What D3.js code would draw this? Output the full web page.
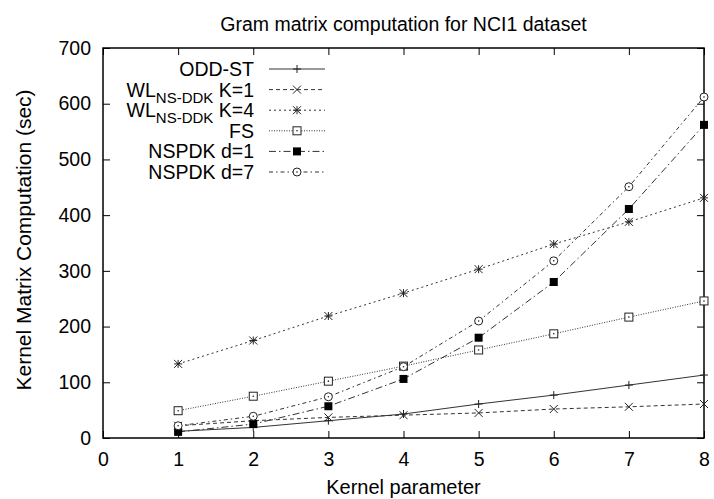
<!DOCTYPE html>
<html>
<head>
<meta charset="utf-8">
<script src="https://cdn.jsdelivr.net/npm/d3@7"></script>
<style>
  body { margin: 0; background: #fff; }
  text { font-family: "Liberation Sans", Arial, sans-serif; fill: #000; }
</style>
</head>
<body>
<svg width="714" height="499"></svg>
<script>
// kernel parameter values (x)
const params = [1, 2, 3, 4, 5, 6, 7, 8];

// running times in seconds
const oddSt    = [12, 19, 31, 43, 61, 77, 95, 113];
const wlK1     = [22, 31, 37, 41, 45, 52, 56, 61];
const wlK4     = [133, 175, 219, 260, 303, 348, 388, 431];
const fs       = [49, 75, 102, 129, 158, 187, 217, 246];
const nspdkD1  = [11, 25, 57, 106, 180, 280, 411, 562];
const nspdkD7  = [22, 39, 74, 128, 210, 318, 451, 612];

const xTicks = [0, 1, 2, 3, 4, 5, 6, 7, 8];
const yTicks = [0, 100, 200, 300, 400, 500, 600, 700];

const series = [
  { name: "ODD-ST", values: oddSt, dash: null, marker: "plus" },
  { name: "WL", sub: "NS-DDK", tail: " K=1", values: wlK1, dash: "4,3", marker: "cross" },
  { name: "WL", sub: "NS-DDK", tail: " K=4", values: wlK4, dash: "2,3", marker: "star" },
  { name: "FS", values: fs, dash: "1,1.5", marker: "square" },
  { name: "NSPDK d=1", values: nspdkD1, dash: "7,3,1.5,3", marker: "filled" },
  { name: "NSPDK d=7", values: nspdkD7, dash: "4,3,1.5,3", marker: "circle" }
];

const margin = { top: 48, right: 10, bottom: 61, left: 103 };
const width = 714 - margin.left - margin.right;
const height = 499 - margin.top - margin.bottom;

const svg = d3.select("svg");
const g = svg.append("g")
  .attr("transform", `translate(${margin.left},${margin.top})`);

const x = d3.scaleLinear().domain([0, 8]).range([0, width]);
const y = d3.scaleLinear().domain([0, 700]).range([height, 0]);

// axes with inward ticks on all four sides
function styleAxis(sel) {
  sel.select(".domain").remove();
  sel.selectAll("line").attr("stroke", "#000").attr("stroke-width", 1);
  sel.selectAll("text").style("font-size", "19.5px");
}

g.append("g")
  .attr("transform", `translate(0,${height})`)
  .call(d3.axisBottom(x).tickValues(xTicks).tickSizeInner(-7).tickSizeOuter(0).tickPadding(14))
  .call(styleAxis);

g.append("g")
  .call(d3.axisTop(x).tickValues(xTicks).tickSizeInner(-7).tickSizeOuter(0).tickFormat(""))
  .call(styleAxis);

g.append("g")
  .call(d3.axisLeft(y).tickValues(yTicks).tickSizeInner(-7).tickSizeOuter(0).tickPadding(12))
  .call(styleAxis);

g.append("g")
  .attr("transform", `translate(${width},0)`)
  .call(d3.axisRight(y).tickValues(yTicks).tickSizeInner(-7).tickSizeOuter(0).tickFormat(""))
  .call(styleAxis);

g.append("rect")
  .attr("width", width)
  .attr("height", height)
  .attr("fill", "none")
  .attr("stroke", "#000")
  .attr("stroke-width", 1.5);

// marker shapes
function drawMarker(sel, type, cx, cy) {
  const s = 4;
  const m = sel.append("g").attr("transform", `translate(${cx},${cy})`);
  const line = (x1, y1, x2, y2) => m.append("line")
    .attr("x1", x1).attr("y1", y1).attr("x2", x2).attr("y2", y2)
    .attr("stroke", "#222").attr("stroke-width", 1);
  if (type === "plus" || type === "star") {
    line(-s, 0, s, 0);
    line(0, -s, 0, s);
  }
  if (type === "cross" || type === "star") {
    line(-s, -s, s, s);
    line(-s, s, s, -s);
  }
  if (type === "square") {
    m.append("rect").attr("x", -s).attr("y", -s).attr("width", 2 * s).attr("height", 2 * s)
      .attr("fill", "#fff").attr("stroke", "#222").attr("stroke-width", 1);
    m.append("circle").attr("r", 0.8).attr("fill", "#222");
  }
  if (type === "filled") {
    m.append("rect").attr("x", -s).attr("y", -s).attr("width", 2 * s).attr("height", 2 * s)
      .attr("fill", "#000");
  }
  if (type === "circle") {
    m.append("circle").attr("r", s).attr("fill", "#fff").attr("stroke", "#222").attr("stroke-width", 1);
    m.append("circle").attr("r", 0.8).attr("fill", "#222");
  }
}

const lineGen = d3.line()
  .x((d, i) => x(params[i]))
  .y(d => y(d));

series.forEach(s => {
  g.append("path")
    .datum(s.values)
    .attr("d", lineGen)
    .attr("fill", "none")
    .attr("stroke", "#333")
    .attr("stroke-width", 1)
    .attr("stroke-dasharray", s.dash);
});

series.forEach(s => {
  s.values.forEach((v, i) => drawMarker(g, s.marker, x(params[i]), y(v)));
});

// legend
const legend = svg.append("g").attr("transform", "translate(254,69)");
series.forEach((s, i) => {
  const row = legend.append("g").attr("transform", `translate(0,${i * 20.6})`);
  const t = row.append("text")
    .attr("x", 0)
    .attr("y", 7)
    .attr("text-anchor", "end")
    .style("font-size", "19.5px");
  t.append("tspan").text(s.name);
  if (s.sub) {
    t.append("tspan").attr("dy", 6).style("font-size", "15px").text(s.sub);
    t.append("tspan").attr("dy", -6).text(s.tail);
  }
  row.append("line")
    .attr("x1", 15).attr("x2", 71)
    .attr("y1", 0).attr("y2", 0)
    .attr("stroke", "#333")
    .attr("stroke-width", 1)
    .attr("stroke-dasharray", s.dash);
  drawMarker(row, s.marker, 43, 0);
});

// title and axis labels
svg.append("text")
  .attr("x", margin.left + width / 2)
  .attr("y", 31)
  .attr("text-anchor", "middle")
  .style("font-size", "19.5px")
  .text("Gram matrix computation for NCI1 dataset");

svg.append("text")
  .attr("x", margin.left + width / 2)
  .attr("y", 494)
  .attr("text-anchor", "middle")
  .style("font-size", "20px")
  .text("Kernel parameter");

svg.append("text")
  .attr("transform", "rotate(-90)")
  .attr("x", -240)
  .attr("y", 31)
  .attr("text-anchor", "middle")
  .style("font-size", "21px")
  .text("Kernel Matrix Computation (sec)");
</script>
</body>
</html>
